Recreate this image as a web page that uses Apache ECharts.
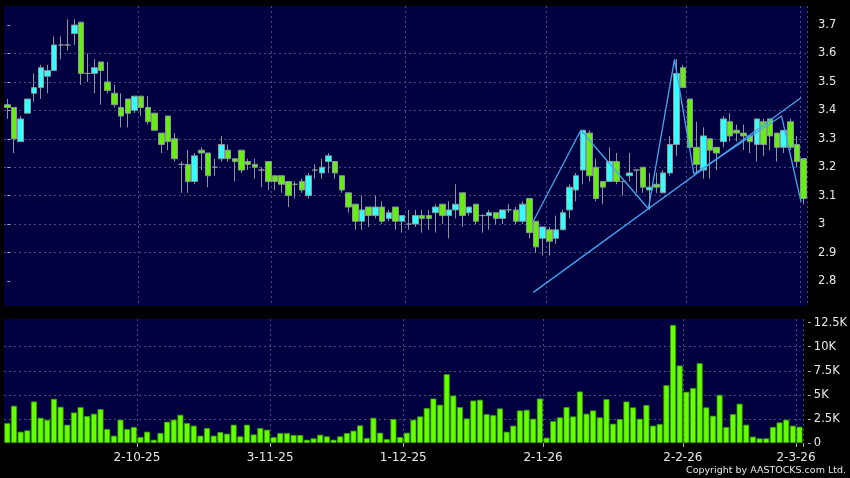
<!DOCTYPE html>
<html><head><meta charset="utf-8">
<script src="https://cdn.jsdelivr.net/npm/echarts@6/dist/echarts.min.js"></script>
<style>html,body{margin:0;padding:0;background:#000;}#c{width:850px;height:478px;}</style>
</head><body><div id="c"></div>
<script>
// Trading days (D-M-YY)
const dates = [
'3-9-25','4-9-25','5-9-25','8-9-25','9-9-25','10-9-25','11-9-25','12-9-25','15-9-25','16-9-25',
'17-9-25','18-9-25','19-9-25','22-9-25','23-9-25','24-9-25','25-9-25','26-9-25','29-9-25','30-9-25',
'2-10-25','3-10-25','6-10-25','8-10-25','9-10-25','10-10-25','13-10-25','14-10-25','15-10-25','16-10-25',
'17-10-25','20-10-25','21-10-25','22-10-25','23-10-25','24-10-25','27-10-25','28-10-25','30-10-25','31-10-25',
'3-11-25','4-11-25','5-11-25','6-11-25','7-11-25','10-11-25','11-11-25','12-11-25','13-11-25','14-11-25',
'17-11-25','18-11-25','19-11-25','20-11-25','21-11-25','24-11-25','25-11-25','26-11-25','27-11-25','28-11-25',
'1-12-25','2-12-25','3-12-25','4-12-25','5-12-25','8-12-25','9-12-25','10-12-25','11-12-25','12-12-25',
'15-12-25','16-12-25','17-12-25','18-12-25','19-12-25','22-12-25','23-12-25','24-12-25','29-12-25','30-12-25',
'31-12-25','2-1-26','5-1-26','6-1-26','7-1-26','8-1-26','9-1-26','12-1-26','13-1-26','14-1-26',
'15-1-26','16-1-26','19-1-26','20-1-26','21-1-26','22-1-26','23-1-26','26-1-26','27-1-26','28-1-26',
'29-1-26','30-1-26','2-2-26','3-2-26','4-2-26','5-2-26','6-2-26','9-2-26','10-2-26','11-2-26',
'12-2-26','13-2-26','16-2-26','20-2-26','23-2-26','24-2-26','25-2-26','26-2-26','27-2-26','2-3-26'
];
const opens = [
3.42,3.41,3.29,3.39,3.46,3.48,3.52,3.54,3.63,3.63,3.67,3.71,3.53,3.53,3.57,3.50,3.46,3.41,3.44,3.40,
3.45,3.41,3.39,3.32,3.38,3.30,3.21,3.21,3.15,3.26,3.25,3.20,3.23,3.26,3.23,3.26,3.22,3.21,3.19,3.22,
3.17,3.17,3.15,3.14,3.15,3.10,3.19,3.18,3.22,3.22,3.17,3.11,3.07,3.01,3.06,3.03,3.06,3.02,3.06,3.01,
3.00,3.00,3.03,3.03,3.04,3.07,3.03,3.05,3.11,3.04,3.07,3.03,3.03,3.04,3.02,3.05,3.05,3.01,3.09,3.01,
2.95,2.98,2.95,2.98,3.05,3.12,3.19,3.32,3.20,3.15,3.15,3.22,3.15,3.17,3.19,3.20,3.12,3.14,3.11,3.18,
3.28,3.55,3.44,3.27,3.19,3.30,3.27,3.29,3.36,3.33,3.32,3.31,3.28,3.36,3.37,3.32,3.27,3.36,3.28,3.23
];
const closes = [
3.41,3.30,3.37,3.44,3.48,3.55,3.54,3.63,3.63,3.63,3.70,3.53,3.53,3.55,3.54,3.47,3.42,3.38,3.39,3.45,
3.41,3.36,3.33,3.28,3.29,3.23,3.21,3.15,3.24,3.25,3.17,3.20,3.28,3.23,3.22,3.19,3.21,3.20,3.19,3.15,
3.15,3.14,3.10,3.14,3.12,3.17,3.19,3.20,3.24,3.18,3.12,3.06,3.01,3.05,3.03,3.06,3.01,3.04,3.01,3.03,
3.00,3.03,3.02,3.02,3.06,3.03,3.05,3.07,3.03,3.06,3.01,3.03,3.04,3.02,3.05,3.05,3.01,3.07,2.97,2.92,
2.99,2.94,2.98,3.04,3.13,3.17,3.33,3.17,3.09,3.13,3.22,3.15,3.15,3.18,3.19,3.13,3.13,3.13,3.18,3.28,
3.53,3.48,3.27,3.21,3.31,3.26,3.25,3.37,3.31,3.32,3.31,3.29,3.37,3.28,3.31,3.27,3.33,3.27,3.22,3.09
];
const lows = [
3.37,3.25,3.29,3.39,3.43,3.44,3.46,3.54,3.58,3.61,3.63,3.49,3.50,3.46,3.42,3.46,3.41,3.34,3.34,3.39,
3.38,3.35,3.33,3.25,3.26,3.22,3.11,3.11,3.14,3.19,3.13,3.17,3.22,3.22,3.15,3.18,3.19,3.16,3.13,3.12,
3.12,3.11,3.06,3.09,3.11,3.09,3.16,3.16,3.18,3.16,3.11,3.04,2.98,2.98,2.99,3.02,3.00,3.01,2.98,2.97,
2.98,2.99,2.97,2.98,2.97,3.00,2.95,3.02,2.99,3.03,3.00,2.97,2.98,3.00,3.00,3.04,3.00,3.00,2.95,2.90,
2.89,2.89,2.93,2.98,3.02,3.08,3.14,3.15,3.08,3.07,3.15,3.14,3.10,3.15,3.11,3.11,3.05,3.11,3.11,3.17,
3.24,3.48,3.27,3.18,3.16,3.16,3.19,3.27,3.29,3.29,3.26,3.25,3.22,3.24,3.26,3.22,3.25,3.26,3.20,3.07
];
const highs = [
3.44,3.41,3.38,3.44,3.53,3.56,3.56,3.66,3.66,3.72,3.72,3.71,3.60,3.58,3.57,3.57,3.49,3.46,3.44,3.45,
3.45,3.45,3.39,3.32,3.38,3.32,3.22,3.26,3.25,3.27,3.25,3.23,3.31,3.28,3.23,3.26,3.23,3.23,3.20,3.22,
3.17,3.17,3.15,3.15,3.16,3.18,3.21,3.23,3.25,3.22,3.17,3.11,3.07,3.10,3.06,3.10,3.08,3.05,3.06,3.03,
3.05,3.05,3.05,3.05,3.07,3.07,3.08,3.14,3.11,3.06,3.07,3.035,3.05,3.04,3.05,3.07,3.06,3.08,3.09,3.01,
2.99,2.99,3.03,3.05,3.14,3.18,3.33,3.33,3.23,3.15,3.27,3.25,3.15,3.25,3.19,3.20,3.18,3.18,3.19,3.31,
3.58,3.56,3.44,3.36,3.34,3.30,3.27,3.38,3.39,3.35,3.35,3.31,3.37,3.37,3.37,3.32,3.33,3.37,3.31,3.23
];
// Volume in thousands
const volumes = [
2.07,3.87,1.17,1.31,4.31,2.62,2.41,4.59,3.76,1.90,3.17,3.73,2.80,3.04,3.52,1.45,0.76,2.42,1.45,1.66,
0.62,1.17,0.34,1.04,2.21,2.42,2.93,2.07,1.80,0.76,1.55,0.76,1.14,0.97,1.90,0.69,1.90,0.89,1.55,1.38,
0.62,1.04,1.04,0.83,0.83,0.34,0.48,0.86,0.69,0.34,0.69,1.04,1.28,1.83,0.52,2.62,1.07,0.41,2.49,0.62,
1.07,2.42,2.76,3.63,4.62,3.97,7.15,4.93,3.73,2.55,4.41,4.49,3.00,2.90,3.59,1.17,1.80,3.38,3.45,2.52,
4.62,0.55,2.28,2.66,3.73,2.76,5.35,3.04,3.38,2.66,4.56,2.00,2.49,4.31,3.70,2.52,3.94,1.80,1.97,6.00,
12.26,8.05,5.32,5.70,8.29,3.70,2.83,5.00,1.66,3.00,4.08,1.90,0.66,0.48,0.48,1.66,2.14,2.42,1.80,1.69
];
const labelIdx = [20, 40, 60, 81, 102, 119];
const priceTicks = [2.8, 2.9, 3.0, 3.1, 3.2, 3.3, 3.4, 3.5, 3.6, 3.7];
const volTicks = [0, 2.5, 5, 7.5, 10, 12.5];
// Drawn annotation lines: [day position, price]
const zigzag = [[78.6,3.010],[85.7,3.330],[95.8,3.054],[99.7,3.579],[102.6,3.176],[115.7,3.380],[118.6,3.079]];
const trendLine = [[78.6,2.760],[118.6,3.444]];
const copyright = 'Copyright by AASTOCKS.com Ltd.';

const FONT = 'DejaVu Sans';
const gridLine = {show: true, lineStyle: {color: '#4c4c86', type: [2, 3], width: 1}};
const chart = echarts.init(document.getElementById('c'), null, {renderer: 'canvas'});
const showIdx = (i) => labelIdx.indexOf(i) >= 0;
chart.setOption({
  animation: false,
  backgroundColor: '#000000',
  textStyle: {fontFamily: FONT},
  grid: [
    {left: 4, right: 43, top: 6, height: 300, show: true, backgroundColor: '#000040', borderWidth: 0},
    {left: 4, right: 43, top: 319, height: 124, show: true, backgroundColor: '#000040', borderWidth: 0}
  ],
  xAxis: [
    {type: 'category', gridIndex: 0, data: dates, boundaryGap: true,
     axisLine: {show: false}, axisTick: {show: false}, axisLabel: {show: false},
     splitLine: Object.assign({interval: (i) => showIdx(i)}, gridLine)},
    {type: 'category', gridIndex: 1, data: dates, boundaryGap: true, offset: 2,
     axisLine: {show: false},
     axisTick: {show: true, length: 4, interval: (i) => showIdx(i), lineStyle: {color: '#aaaaaa'}},
     axisLabel: {show: true, interval: (i) => showIdx(i), color: '#e8e8e8', fontSize: 12, fontFamily: FONT, margin: 7, padding: [0, 7, 0, 0]},
     splitLine: Object.assign({interval: (i) => showIdx(i)}, gridLine)},
    {type: 'value', gridIndex: 0, min: -0.5, max: dates.length - 0.5, show: false}
  ],
  yAxis: [
    {type: 'value', gridIndex: 0, position: 'right', min: 2.712, max: 3.767, splitNumber: 10, offset: 5, scale: true,
     axisLine: {show: false},
     axisTick: {show: true, length: 3, lineStyle: {color: '#aaaaaa'}, customValues: priceTicks},
     axisLabel: {color: '#e8e8e8', fontSize: 11.5, fontFamily: FONT, margin: 6, customValues: priceTicks,
       formatter: (v) => (Math.abs(v * 10 - Math.round(v * 10)) < 1e-6 ? String(+v.toFixed(1)) : '')},
     splitLine: Object.assign({showMinLine: false, showMaxLine: false}, gridLine)},
    {type: 'value', gridIndex: 1, position: 'right', min: 0, max: 12.88, interval: 2.5, offset: 5,
     axisLine: {show: false},
     axisTick: {show: true, length: 3, lineStyle: {color: '#aaaaaa'}, customValues: volTicks},
     axisLabel: {color: '#e8e8e8', fontSize: 11.5, fontFamily: FONT, margin: 6, customValues: volTicks,
       formatter: (v) => (v === 0 ? '0' : (volTicks.indexOf(+v.toFixed(1)) >= 0 ? (+v.toFixed(1)) + 'K' : ''))},
     splitLine: Object.assign({showMinLine: false, showMaxLine: false}, gridLine)}
  ],
  series: [
    {type: 'candlestick', xAxisIndex: 0, yAxisIndex: 0, barWidth: 6,
     data: dates.map((d, i) => [opens[i], closes[i], lows[i], highs[i]]),
     itemStyle: {color: '#33ffff', color0: '#66ee11', borderColor: '#8a9898', borderColor0: '#8a9898', borderWidth: 1}},
    {type: 'line', xAxisIndex: 2, yAxisIndex: 0, data: zigzag, symbol: 'none',
     lineStyle: {color: '#45a6f0', width: 1.3}},
    {type: 'line', xAxisIndex: 2, yAxisIndex: 0, data: trendLine, symbol: 'none',
     lineStyle: {color: '#45a6f0', width: 1.3}},
    {type: 'bar', xAxisIndex: 1, yAxisIndex: 1, barWidth: 6, data: volumes,
     itemStyle: {color: '#66ff00', borderColor: '#3a9a00', borderWidth: 0.8}}
  ],
  graphic: [
    {type: 'text', right: 4, top: 466, style: {text: copyright, fill: '#e8e8e8', font: '9.5px "DejaVu Sans"'}}
  ]
});
</script></body></html>
